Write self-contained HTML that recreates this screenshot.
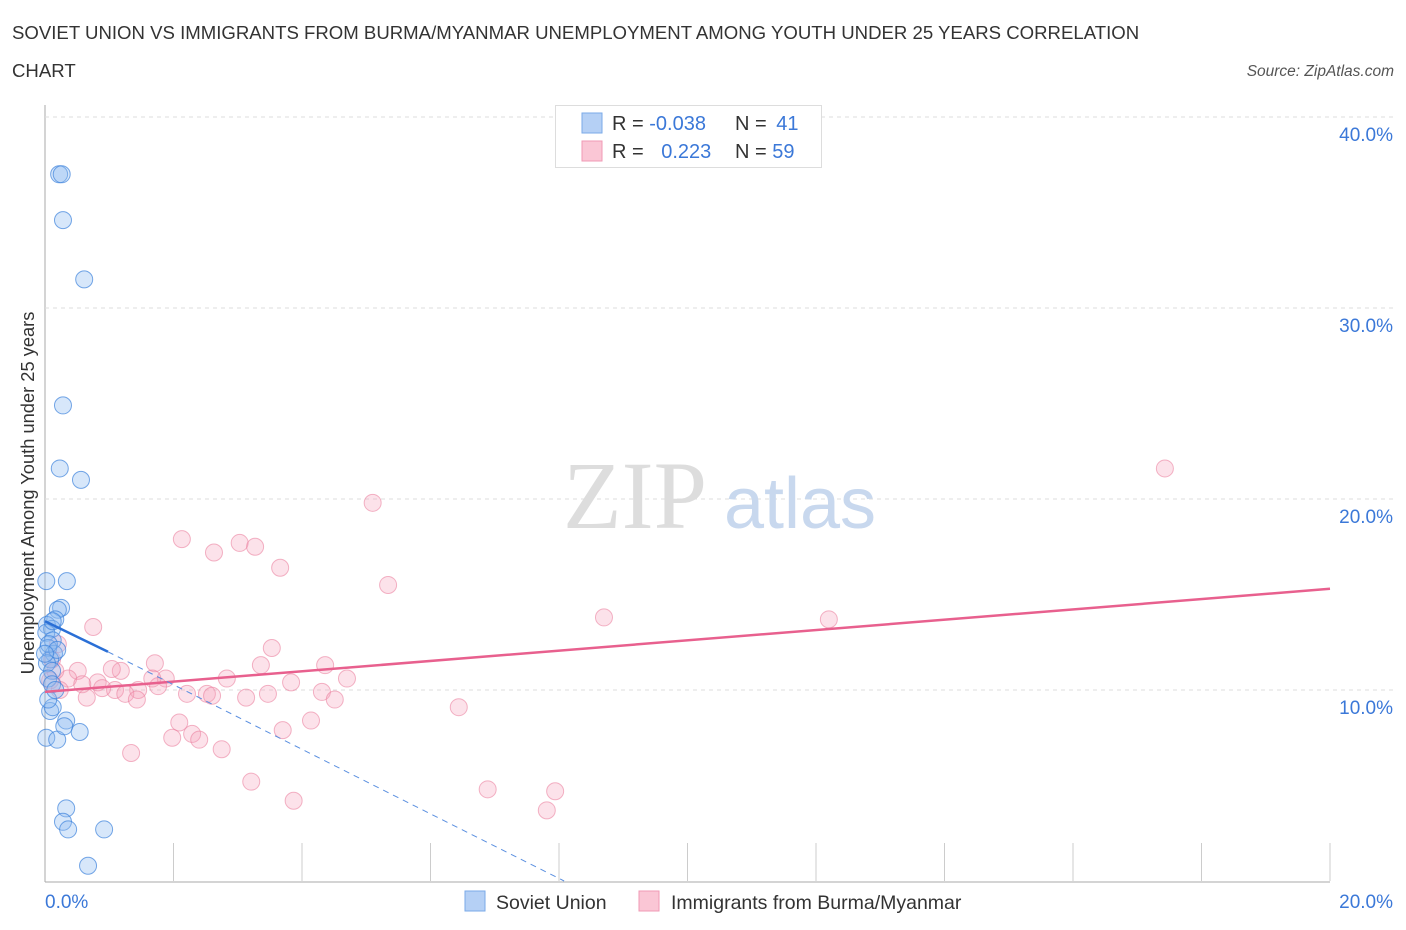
<!DOCTYPE html>
<html><head><meta charset="utf-8"><style>
body{margin:0;background:#fff;font-family:"Liberation Sans",sans-serif;}
svg{display:block}
</style></head><body>
<svg id="chart" width="1406" height="930" xmlns="http://www.w3.org/2000/svg">
<text x="12" y="39" font-size="18.6" fill="#333">SOVIET UNION VS IMMIGRANTS FROM BURMA/MYANMAR UNEMPLOYMENT AMONG YOUTH UNDER 25 YEARS CORRELATION</text>
<text x="12" y="77" font-size="18.6" fill="#333">CHART</text>
<text x="1394" y="76" font-size="15.5" font-style="italic" fill="#555" text-anchor="end">Source: ZipAtlas.com</text>
<g id="grid"></g>
<text x="635" y="528" font-size="96" font-family="Liberation Serif,serif" fill="#ddd" text-anchor="middle">ZIP</text>
<text x="800" y="528" font-size="72" fill="#c8d8ee" text-anchor="middle">atlas</text>
<g id="points"></g>
<g id="lines"></g>
<text transform="translate(34,493) rotate(-90)" font-size="18.3" fill="#333" text-anchor="middle">Unemployment Among Youth under 25 years</text>
<text x="45" y="908" font-size="19" fill="#3b78d8">0.0%</text>
<text x="1393" y="908" font-size="19" fill="#3b78d8" text-anchor="end">20.0%</text>
<g>
<rect x="555.5" y="105.5" width="266" height="62" fill="#fff" stroke="#ddd"/>
<rect x="582" y="113" width="20" height="20" fill="#b5d0f5" stroke="#7aaae8"/>
<rect x="582" y="141" width="20" height="20" fill="#fac6d5" stroke="#f09ab5"/>
<text x="612" y="130" font-size="20" fill="#333">R = <tspan fill="#3b78d8">-0.038</tspan></text>
<text x="735" y="130" font-size="20" fill="#333">N = <tspan fill="#3b78d8" dx="4">41</tspan></text>
<text x="612" y="158" font-size="20" fill="#333">R = <tspan fill="#3b78d8" dx="12">0.223</tspan></text>
<text x="735" y="158" font-size="20" fill="#333">N = <tspan fill="#3b78d8">59</tspan></text>
</g>
<g>
<rect x="465" y="891" width="20" height="20" fill="#b5d0f5" stroke="#7aaae8"/>
<text x="496" y="909" font-size="19.5" fill="#333">Soviet Union</text></g>
<g>
<rect x="639" y="891" width="20" height="20" fill="#fac6d5" stroke="#f09ab5"/>
<text x="671" y="909" font-size="19.5" fill="#333">Immigrants from Burma/Myanmar</text></g>
</svg>
<script>
const yTicks=[10,20,30,40];
const xTicksCount=10;
const sovietX=[0.22,0.26,0.28,0.61,0.28,0.23,0.56,0.02,0.34,0.25,0.20,0.16,0.03,0.11,0.02,0.12,0.05,0.14,0.08,0.03,0.11,0.05,0.11,0.08,0.12,0.02,0.19,0.33,0.30,0.54,0.33,0.28,0.36,0.92,0.67,0.05,0.16,0.06,0.19,0.12,0.0];
const sovietY=[37.0,37.0,34.6,31.5,24.9,21.6,21.0,15.7,15.7,14.3,14.2,13.7,13.4,13.2,13.0,12.6,12.2,11.9,11.6,11.4,11.0,10.6,10.3,8.9,9.1,7.5,7.4,8.4,8.1,7.8,3.8,3.1,2.7,2.7,0.8,9.5,10.0,12.4,12.1,13.6,11.9];
const burmaX=[17.43,5.10,2.13,2.63,3.03,3.27,3.66,5.34,8.70,12.20,0.75,3.53,1.71,3.36,4.36,1.18,0.51,1.04,1.88,1.67,2.83,4.70,3.83,0.36,0.82,0.58,1.09,1.45,1.76,0.89,2.52,2.21,1.25,3.47,2.60,4.31,3.13,4.51,0.65,1.43,6.44,2.09,4.14,3.70,1.98,2.29,2.40,2.75,1.34,3.21,3.87,6.89,7.94,7.81,0.08,0.16,0.20,0.23,0.11];
const burmaY=[21.6,19.8,17.9,17.2,17.7,17.5,16.4,15.5,13.8,13.7,13.3,12.2,11.4,11.3,11.3,11.0,11.0,11.1,10.6,10.6,10.6,10.6,10.4,10.6,10.4,10.3,10.0,10.0,10.2,10.1,9.8,9.8,9.8,9.8,9.7,9.9,9.6,9.5,9.6,9.5,9.1,8.3,8.4,7.9,7.5,7.7,7.4,6.9,6.7,5.2,4.2,4.8,4.7,3.7,10.5,11.0,12.4,10.0,11.6];
const burmaTrend=[9.9,15.3];
const sovietTrend=[13.6,12.0,0.0];
const sovietTrendX=[0,0.98,8.08];
const X0=45,X1=1330,Y0=881,PPY=19.1;
const sx=v=>X0+(v/20)*(X1-X0), sy=v=>Y0-v*PPY;
const NS="http://www.w3.org/2000/svg";
function mk(t,a,p){const e=document.createElementNS(NS,t);for(const k in a)e.setAttribute(k,a[k]);p.appendChild(e);return e;}
const grid=document.getElementById('grid');
let ax=mk('line',{x1:X0,y1:105,x2:X0,y2:Y0+1,stroke:'#aaa'},grid);


let bx=mk('line',{x1:X0,y1:Y0+1,x2:X1,y2:Y0+1,stroke:'#aaa'},grid);


yTicks.forEach(t=>{
 const g=mk('line',{x1:X0,y1:sy(t),x2:1395,y2:sy(t),stroke:'#ddd','stroke-dasharray':'4,4'},grid);
 
 
 const l=mk('text',{x:1393,y:sy(t)+24,'font-size':19,fill:'#3b78d8','text-anchor':'end'},grid);
 l.textContent=t.toFixed(1)+'%';
 
 
});
for(let i=1;i<=xTicksCount;i++){
 const x=X0+i*(X1-X0)/xTicksCount;
 const t=mk('line',{x1:x,y1:Y0-38,x2:x,y2:Y0,stroke:'#ccc'},grid);
 
 
}
const pts=document.getElementById('points');
burmaX.forEach((v,i)=>{
 const c=mk('circle',{cx:sx(v),cy:sy(burmaY[i]),r:8.5,fill:'rgba(245,160,185,0.3)',stroke:'rgba(235,130,160,0.6)'},pts);
 
 
});
sovietX.forEach((v,i)=>{
 const c=mk('circle',{cx:sx(v),cy:sy(sovietY[i]),r:8.5,fill:'rgba(140,185,240,0.35)',stroke:'rgba(60,130,220,0.7)'},pts);
 
 
});
const ln=document.getElementById('lines');
let bl=mk('line',{x1:sx(0),y1:sy(burmaTrend[0]),x2:sx(20),y2:sy(burmaTrend[1]),stroke:'#e8608e','stroke-width':2.5},ln);


let s1=mk('line',{x1:sx(sovietTrendX[0]),y1:sy(sovietTrend[0]),x2:sx(sovietTrendX[1]),y2:sy(sovietTrend[1]),stroke:'#2a6fd6','stroke-width':2.5},ln);


let s2=mk('line',{x1:sx(sovietTrendX[1]),y1:sy(sovietTrend[1]),x2:sx(sovietTrendX[2]),y2:sy(sovietTrend[2]),stroke:'#5a8fe0','stroke-width':1,'stroke-dasharray':'6,5'},ln);


</script>
</body></html>
